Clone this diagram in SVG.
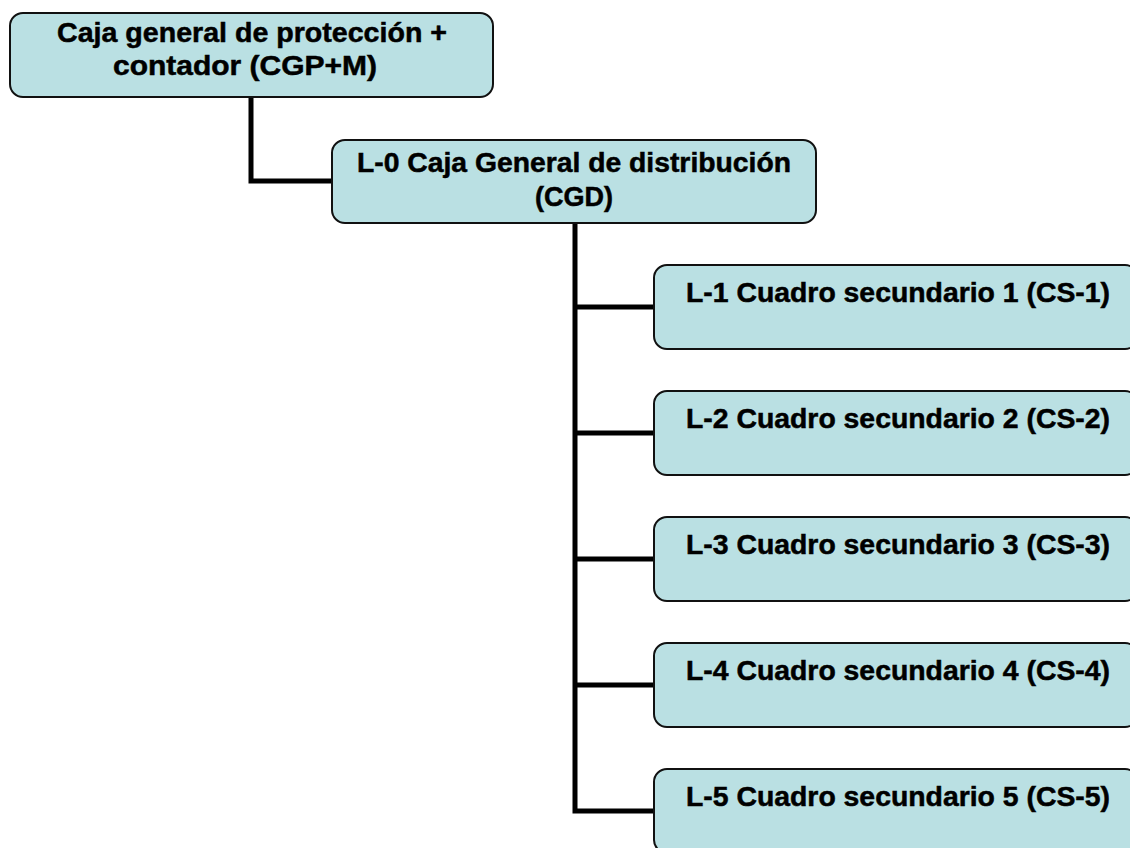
<svg xmlns="http://www.w3.org/2000/svg" width="1130" height="848" viewBox="0 0 1130 848">
  <style>
    .box { fill: #bae0e3; stroke: #111; stroke-width: 2; }
    .lbl { font-family: "Liberation Sans", Arial, sans-serif; font-weight: bold; font-size: 27px; fill: #000; stroke: #000; stroke-width: 0.5; }
    .wire { fill: none; stroke: #000; stroke-width: 5; stroke-linejoin: miter; }
  </style>
  <rect width="1130" height="848" fill="#fff"/>

  <!-- connectors -->
  <g id="connectors">
    <polyline class="wire" points="251,98 251,181 332,181"/>
    <polyline class="wire" points="575,223 575,811 654,811"/>
    <line class="wire" x1="575" y1="307" x2="654" y2="307"/>
    <line class="wire" x1="575" y1="433" x2="654" y2="433"/>
    <line class="wire" x1="575" y1="559" x2="654" y2="559"/>
    <line class="wire" x1="575" y1="685" x2="654" y2="685"/>
  </g>

  <g id="cgp">
    <rect class="box" x="10" y="13" width="483" height="84" rx="13"/>
    <text class="lbl" x="57" y="42" textLength="390" lengthAdjust="spacingAndGlyphs">Caja general de protección +</text>
    <text class="lbl" x="113" y="75" textLength="264" lengthAdjust="spacingAndGlyphs">contador (CGP+M)</text>
  </g>

  <g id="cgd">
    <rect class="box" x="332" y="140" width="484" height="83" rx="13"/>
    <text class="lbl" x="357" y="172" textLength="434" lengthAdjust="spacingAndGlyphs">L-0 Caja General de distribución</text>
    <text class="lbl" x="535" y="206" textLength="78" lengthAdjust="spacingAndGlyphs">(CGD)</text>
  </g>

  <g id="cs1">
    <rect class="box" x="654" y="265" width="484" height="84" rx="13"/>
    <text class="lbl" x="686" y="302" textLength="424" lengthAdjust="spacingAndGlyphs">L-1 Cuadro secundario 1 (CS-1)</text>
  </g>
  <g id="cs2">
    <rect class="box" x="654" y="391" width="484" height="84" rx="13"/>
    <text class="lbl" x="686" y="428" textLength="424" lengthAdjust="spacingAndGlyphs">L-2 Cuadro secundario 2 (CS-2)</text>
  </g>
  <g id="cs3">
    <rect class="box" x="654" y="517" width="484" height="84" rx="13"/>
    <text class="lbl" x="686" y="554" textLength="424" lengthAdjust="spacingAndGlyphs">L-3 Cuadro secundario 3 (CS-3)</text>
  </g>
  <g id="cs4">
    <rect class="box" x="654" y="643" width="484" height="84" rx="13"/>
    <text class="lbl" x="686" y="680" textLength="424" lengthAdjust="spacingAndGlyphs">L-4 Cuadro secundario 4 (CS-4)</text>
  </g>
  <g id="cs5">
    <rect class="box" x="654" y="769" width="484" height="84" rx="13"/>
    <text class="lbl" x="686" y="806" textLength="424" lengthAdjust="spacingAndGlyphs">L-5 Cuadro secundario 5 (CS-5)</text>
  </g>
</svg>
